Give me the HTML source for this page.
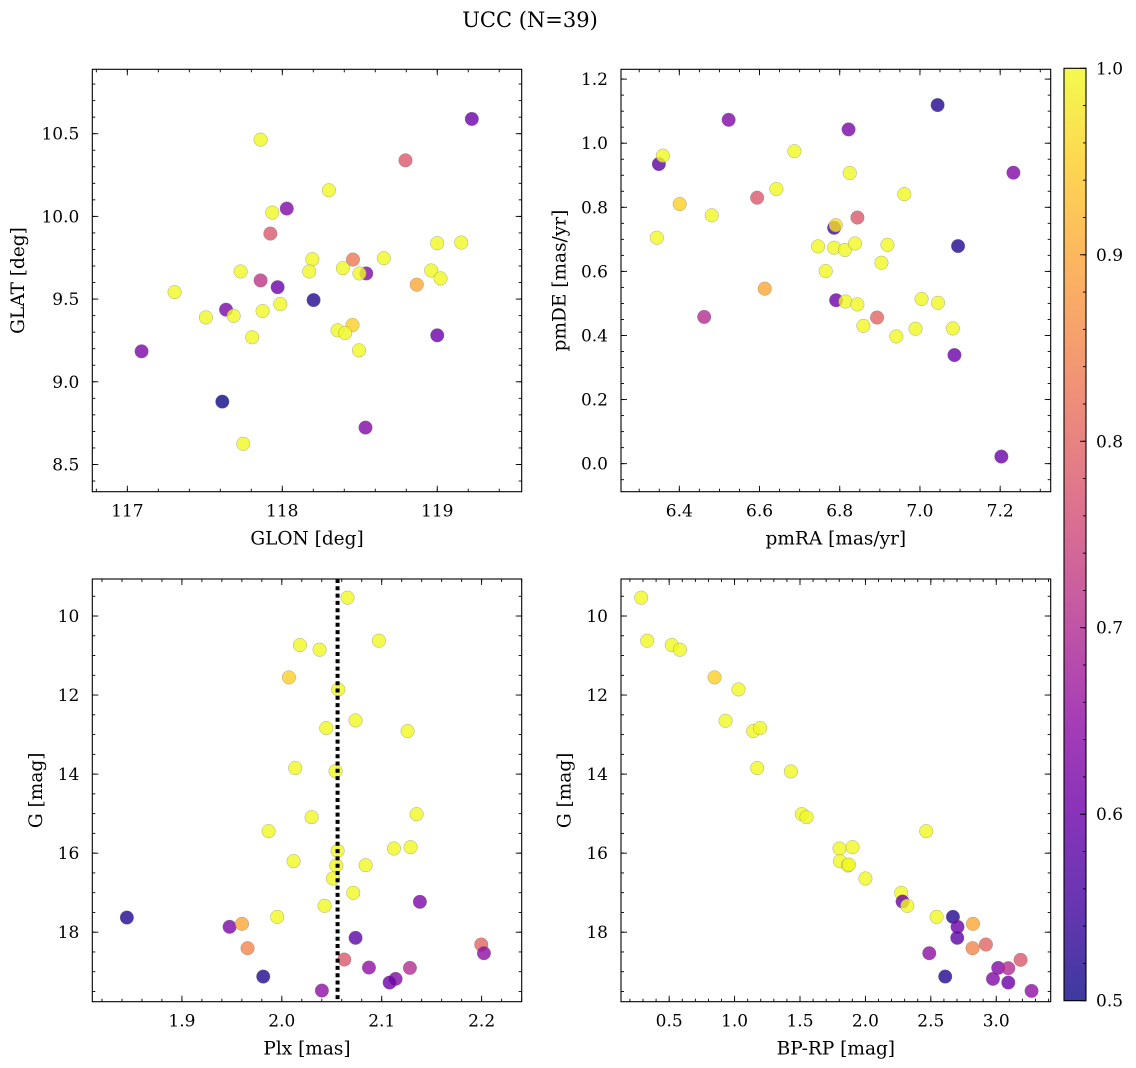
<!DOCTYPE html>
<html><head><meta charset="utf-8">
<style>
html,body{margin:0;padding:0;background:#fff;}
svg{display:block;font-family:"DejaVu Serif","Liberation Serif",serif;}
</style></head>
<body>
<svg id="fig" width="1136" height="1068" viewBox="0 0 1136 1068" xmlns="http://www.w3.org/2000/svg">
<defs>
<linearGradient id="cbgrad" x1="0" y1="1" x2="0" y2="0">
<stop offset="0" stop-color="#0d0887"/><stop offset="0.1" stop-color="#41049d"/><stop offset="0.2" stop-color="#6a00a8"/><stop offset="0.3" stop-color="#8f0da4"/><stop offset="0.4" stop-color="#b12a90"/><stop offset="0.5" stop-color="#cc4778"/><stop offset="0.6" stop-color="#e16462"/><stop offset="0.7" stop-color="#f2844b"/><stop offset="0.8" stop-color="#fca636"/><stop offset="0.9" stop-color="#fcce25"/><stop offset="1" stop-color="#f0f921"/>
</linearGradient>
</defs>
<text x="530" y="27" font-size="21" text-anchor="middle">UCC (N=39)</text>
</svg>
<script>
// Panel 1: GLON / GLAT
const glon = [119.223,117.860,118.795,118.301,118.029,117.935,117.923,119.000,119.155,118.194,118.456,118.655,117.731,118.174,118.391,118.542,118.498,118.961,119.021,117.860,117.970,118.868,117.305,118.202,117.987,117.873,117.637,117.686,117.507,118.453,118.357,118.406,117.806,119.000,117.092,118.495,117.613,118.537,117.748];
const glat = [10.589,10.464,10.339,10.158,10.047,10.023,9.896,9.838,9.842,9.741,9.739,9.747,9.667,9.667,9.687,9.655,9.655,9.673,9.625,9.613,9.572,9.587,9.542,9.494,9.470,9.428,9.436,9.399,9.389,9.343,9.311,9.295,9.269,9.281,9.184,9.190,8.880,8.723,8.625];
const prob1 = [0.60,1,0.78,1,0.63,1,0.78,1,1,1,0.83,1,1,1,1,0.63,1,1,1,0.72,0.60,0.90,1,0.52,1,1,0.62,1,1,0.95,1,1,1,0.60,0.62,1,0.50,0.63,1];
// Panel 2: pmRA / pmDE
const pmra = [7.044,6.523,6.822,6.349,6.359,7.233,6.825,6.687,6.961,6.642,6.401,6.481,6.594,6.844,6.344,6.786,6.790,6.746,6.786,6.813,6.838,6.919,7.095,6.904,6.765,6.613,6.791,6.814,6.844,7.004,7.045,6.462,6.893,6.859,6.989,7.082,6.941,7.086,7.203];
const pmde = [1.119,1.073,1.043,0.935,0.961,0.908,0.907,0.975,0.841,0.857,0.810,0.775,0.830,0.768,0.705,0.736,0.744,0.678,0.674,0.667,0.687,0.683,0.679,0.627,0.601,0.546,0.510,0.506,0.497,0.514,0.502,0.458,0.456,0.430,0.421,0.422,0.397,0.339,0.022];
const prob2 = [0.52,0.63,0.62,0.58,1,0.63,1,1,1,1,0.95,1,0.78,0.78,1,0.55,0.97,1,1,1,1,1,0.52,1,1,0.90,0.60,1,1,1,1,0.70,0.80,1,1,1,1,0.60,0.60];
// Panel 3: Plx / G
const plx = [2.0658,2.0181,2.0378,2.0972,2.0071,2.0565,2.0738,2.0445,2.1259,2.0134,2.0538,2.0298,2.1349,1.9868,2.1122,2.1289,2.0558,2.0118,2.0545,2.0839,2.0512,2.0715,2.0428,2.1382,1.9954,1.8449,1.9477,1.9601,2.0738,1.9657,2.1996,2.2023,2.0625,2.0872,2.1282,1.9814,2.1139,2.1079,2.0401];
const gmag3 = [9.536,10.734,10.852,10.624,11.553,11.857,12.641,12.835,12.911,13.848,13.924,15.089,15.013,15.443,15.882,15.848,15.941,16.203,16.312,16.304,16.641,17.004,17.333,17.232,17.612,17.629,17.865,17.789,18.143,18.405,18.312,18.532,18.692,18.895,18.903,19.122,19.181,19.274,19.477];
const prob3 = [1,1,1,1,0.95,1,1,1,1,1,1,1,1,1,1,1,1,1,1,1,1,1,1,0.62,1,0.52,0.62,0.90,0.58,0.85,0.80,0.65,0.78,0.65,0.70,0.52,0.63,0.60,0.65];
const plxMedian = 2.0558;
// Panel 4: BP-RP / G
const bprp = [0.286,0.332,0.520,0.582,0.847,1.030,0.931,1.142,1.196,1.173,1.430,1.514,1.550,2.465,1.802,1.902,1.805,1.866,1.874,2.000,2.274,2.284,2.320,2.544,2.669,2.704,2.822,2.702,2.819,2.921,2.488,3.186,3.015,3.092,2.610,2.975,3.092,3.270];
const gmag4 = [9.536,10.624,10.734,10.852,11.553,11.857,12.650,12.911,12.835,13.848,13.932,15.013,15.089,15.443,15.882,15.848,16.203,16.312,16.290,16.641,17.004,17.224,17.333,17.612,17.612,17.865,17.789,18.143,18.405,18.312,18.532,18.700,18.903,18.911,19.122,19.181,19.274,19.485];
const prob4 = [1,1,1,1,0.95,1,1,1,1,1,1,1,1,1,1,1,1,1,1,1,1,0.60,1,1,0.52,0.60,0.90,0.58,0.85,0.80,0.65,0.78,0.63,0.70,0.52,0.63,0.60,0.65];
// tick label arrays
const ticks1x = [117,118,119], ticks1y = [8.5,9.0,9.5,10.0,10.5];
const ticks2x = [6.4,6.6,6.8,7.0,7.2], ticks2y = [0.0,0.2,0.4,0.6,0.8,1.0,1.2];
const ticks3x = [1.9,2.0,2.1,2.2], ticksGy = [10,12,14,16,18];
const ticks4x = [0.5,1.0,1.5,2.0,2.5,3.0];
const cbTicks = [0.5,0.6,0.7,0.8,0.9,1.0];

const NS = "http://www.w3.org/2000/svg";
const svg = document.getElementById('fig');
function mk(tag, attrs, parent){ const e=document.createElementNS(NS,tag); for(const k in attrs) e.setAttribute(k,attrs[k]); (parent||svg).appendChild(e); return e; }

const stops = [[13,8,135],[65,4,157],[106,0,168],[143,13,164],[177,42,144],[204,71,120],[225,100,98],[242,132,75],[252,166,54],[252,206,37],[240,249,33]];
function plasma(p){
  let t=(p-0.5)/0.5; t=Math.max(0,Math.min(1,t));
  const f=t*10, i=Math.min(9,Math.floor(f)), r=f-i;
  const a=stops[i], b=stops[i+1];
  return 'rgb('+[0,1,2].map(k=>Math.round(a[k]+(b[k]-a[k])*r)).join(',')+')';
}

function panel(o){
  const g = mk('g',{});
  
  
  const sx = v => o.x0 + (v-o.xmin)/(o.xmax-o.xmin)*(o.x1-o.x0);
  const sy = o.invert ? (v => o.y0 + (v-o.ymin)/(o.ymax-o.ymin)*(o.y1-o.y0))
                      : (v => o.y1 - (v-o.ymin)/(o.ymax-o.ymin)*(o.y1-o.y0));
  const tk = mk('g',{stroke:'#000','stroke-width':0.9},g);
  
  
  function xt(v,len){ const x=sx(v); mk('line',{x1:x,x2:x,y1:o.y1,y2:o.y1-len},tk); mk('line',{x1:x,x2:x,y1:o.y0,y2:o.y0+len},tk); }
  function yt(v,len){ const y=sy(v); mk('line',{x1:o.x0,x2:o.x0+len,y1:y,y2:y},tk); mk('line',{x1:o.x1,x2:o.x1-len,y1:y,y2:y},tk); }
  for(let v=Math.ceil(o.xmin/o.xminor)*o.xminor; v<=o.xmax; v+=o.xminor) xt(v,3);
  for(let v=Math.ceil(o.ymin/o.yminor)*o.yminor; v<=o.ymax; v+=o.yminor) yt(v,3);
  o.xt.forEach(v=>{ xt(v,6);
    const t=mk('text',{x:sx(v),y:o.y1+25,'font-size':17,'text-anchor':'middle'},g); t.textContent=v.toFixed(o.xdec);
      });
  o.yt.forEach(v=>{ yt(v,6);
    const t=mk('text',{x:o.x0-13,y:sy(v)+6,'font-size':17,'text-anchor':'end'},g); t.textContent=v.toFixed(o.ydec);
      });
  const xl=mk('text',{x:(o.x0+o.x1)/2,y:o.y1+53,'font-size':18.5,'text-anchor':'middle'},g); xl.textContent=o.xlabel;
   
  const ylx=o.x0-o.ylabOff, yly=(o.y0+o.y1)/2;
  const yl=mk('text',{x:ylx,y:yly,'font-size':18.5,'text-anchor':'middle','dominant-baseline':'central',transform:'rotate(-90 '+ylx+' '+yly+')'},g); yl.textContent=o.ylabel;
   
  const cid='clip-'+o.name;
  const cp=mk('clipPath',{id:cid},g); mk('rect',{x:o.x0,y:o.y0,width:o.x1-o.x0,height:o.y1-o.y0},cp);
  const pts=mk('g',{'clip-path':'url(#'+cid+')'},g);
  
  
  o.xs.forEach((xv,i)=>{
    const c=mk('circle',{cx:sx(xv),cy:sy(o.ys[i]),r:6.8,fill:plasma(o.ps[i]),'fill-opacity':0.8,stroke:'#777','stroke-opacity':0.6,'stroke-width':0.5},pts);
    
    
  });
  if(o.vline!==undefined){
    const l=mk('line',{x1:sx(o.vline),x2:sx(o.vline),y1:o.y0,y2:o.y1,stroke:'#000','stroke-width':4,'stroke-dasharray':'4 3.3'},pts);
    
    
  }
  const fr=mk('rect',{x:o.x0,y:o.y0,width:o.x1-o.x0,height:o.y1-o.y0,fill:'none',stroke:'#000','stroke-width':1.1},g);
  
  
}

const TOP={y0:69.3,y1:491.7}, BOT={y0:579,y1:1001.7}, L={x0:92.3,x1:521.7}, R={x0:621,x1:1050.7};
panel({name:'glon-glat-panel',...L,...TOP,xmin:116.774,xmax:119.545,ymin:8.3354,ymax:10.8893,xs:glon,ys:glat,ps:prob1,xt:ticks1x,yt:ticks1y,xdec:0,ydec:1,xminor:0.2,yminor:0.1,xlabel:'GLON [deg]',ylabel:'GLAT [deg]',ylabOff:74});
panel({name:'pmra-pmde-panel',...R,...TOP,xmin:6.2546,xmax:7.326,ymin:-0.0875,ymax:1.2306,xs:pmra,ys:pmde,ps:prob2,xt:ticks2x,yt:ticks2y,xdec:1,ydec:1,xminor:0.05,yminor:0.05,xlabel:'pmRA [mas/yr]',ylabel:'pmDE [mas/yr]',ylabOff:61});
panel({name:'plx-g-panel',...L,...BOT,invert:true,xmin:1.8103,xmax:2.2401,ymin:9.0633,ymax:19.7586,xs:plx,ys:gmag3,ps:prob3,xt:ticks3x,yt:ticksGy,xdec:1,ydec:0,xminor:0.02,yminor:0.5,xlabel:'Plx [mas]',ylabel:'G [mag]',ylabOff:56,vline:plxMedian});
panel({name:'bprp-g-panel',...R,...BOT,invert:true,xmin:0.1318,xmax:3.4163,ymin:9.0633,ymax:19.7586,xs:bprp,ys:gmag4,ps:prob4,xt:ticks4x,yt:ticksGy,xdec:1,ydec:0,xminor:0.1,yminor:0.5,xlabel:'BP-RP [mag]',ylabel:'G [mag]',ylabOff:56});

const cb=mk('g',{});


const cx0=1064, cx1=1086, cy0=68.3, cy1=1000.7;
mk('rect',{x:cx0,y:cy0,width:cx1-cx0,height:cy1-cy0,fill:'url(#cbgrad)','fill-opacity':0.8},cb);
const cby=v=>cy1-(v-0.5)/0.5*(cy1-cy0);
for(let v=0.5; v<=1.0001; v+=0.02){ mk('line',{x1:cx1,x2:cx1-3,y1:cby(v),y2:cby(v),stroke:'#000','stroke-width':0.9},cb); }
cbTicks.forEach(v=>{
  mk('line',{x1:cx1,x2:cx1-6,y1:cby(v),y2:cby(v),stroke:'#000','stroke-width':0.9},cb);
  const t=mk('text',{x:cx1+10,y:cby(v)+6,'font-size':17},cb); t.textContent=v.toFixed(1);
   
});
mk('rect',{x:cx0,y:cy0,width:cx1-cx0,height:cy1-cy0,fill:'none',stroke:'#000','stroke-width':1.1},cb);
</script>
</body></html>
